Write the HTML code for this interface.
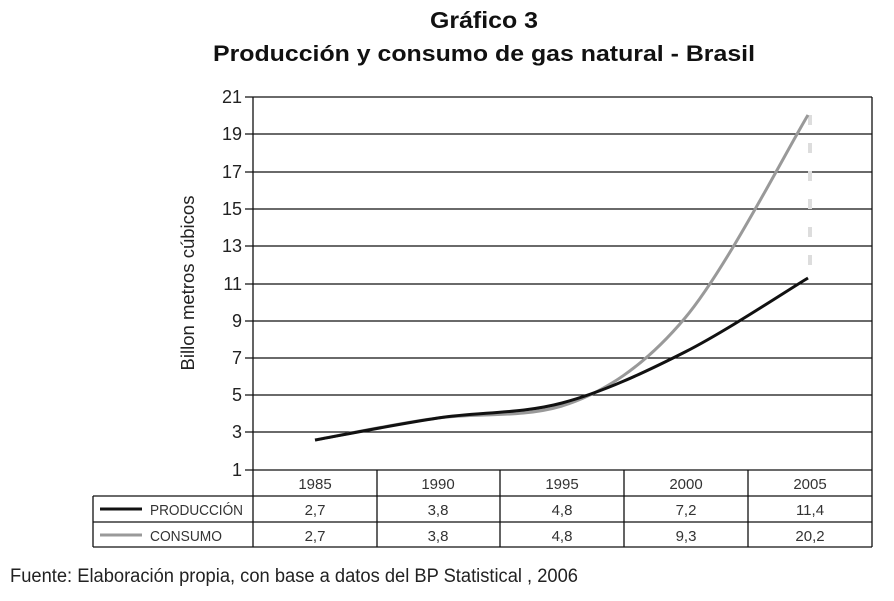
<!DOCTYPE html>
<html><head><meta charset="utf-8"><style>html,body{margin:0;padding:0;background:#fff}svg{display:block}</style></head>
<body>
<svg width="894" height="601" viewBox="0 0 894 601" xmlns="http://www.w3.org/2000/svg" font-family="Liberation Sans, sans-serif">
<text x="484" y="28" font-size="23" font-weight="bold" text-anchor="middle" fill="#111" textLength="108" lengthAdjust="spacingAndGlyphs">Gráfico 3</text>
<text x="484" y="61" font-size="22" font-weight="bold" text-anchor="middle" fill="#111" textLength="542" lengthAdjust="spacingAndGlyphs">Producción y consumo de gas natural - Brasil</text>
<g stroke="#111" stroke-width="1.3">
<line x1="245" y1="97" x2="872" y2="97"/><line x1="245" y1="134" x2="872" y2="134"/><line x1="245" y1="172" x2="872" y2="172"/><line x1="245" y1="209" x2="872" y2="209"/><line x1="245" y1="246" x2="872" y2="246"/><line x1="245" y1="284" x2="872" y2="284"/><line x1="245" y1="321" x2="872" y2="321"/><line x1="245" y1="358" x2="872" y2="358"/><line x1="245" y1="395" x2="872" y2="395"/><line x1="245" y1="432" x2="872" y2="432"/><line x1="245" y1="470" x2="872" y2="470"/>
<line x1="253" y1="97" x2="253" y2="547"/><line x1="872" y1="97" x2="872" y2="547"/>
<line x1="377" y1="470" x2="377" y2="547"/><line x1="500" y1="470" x2="500" y2="547"/><line x1="624" y1="470" x2="624" y2="547"/><line x1="748" y1="470" x2="748" y2="547"/>
<line x1="93" y1="496" x2="872" y2="496"/><line x1="93" y1="522" x2="872" y2="522"/><line x1="93" y1="547" x2="872" y2="547"/><line x1="93" y1="496" x2="93" y2="547"/>
</g>
<g font-size="18" fill="#222" text-anchor="end">
<text x="242" y="103">21</text><text x="242" y="140">19</text><text x="242" y="178">17</text><text x="242" y="215">15</text><text x="242" y="252">13</text><text x="242" y="290">11</text><text x="242" y="327">9</text><text x="242" y="364">7</text><text x="242" y="401">5</text><text x="242" y="438">3</text><text x="242" y="476">1</text>
</g>
<text transform="translate(194,283) rotate(-90)" font-size="18" fill="#222" text-anchor="middle" textLength="175" lengthAdjust="spacingAndGlyphs">Billon metros cúbicos</text>
<g font-size="15" fill="#333" text-anchor="middle">
<text x="315" y="489">1985</text><text x="438" y="489">1990</text><text x="562" y="489">1995</text><text x="686" y="489">2000</text><text x="810" y="489">2005</text>
<text x="315" y="515">2,7</text><text x="438" y="515">3,8</text><text x="562" y="515">4,8</text><text x="686" y="515">7,2</text><text x="810" y="515">11,4</text>
<text x="315" y="541">2,7</text><text x="438" y="541">3,8</text><text x="562" y="541">4,8</text><text x="686" y="541">9,3</text><text x="810" y="541">20,2</text>
<text x="150" y="515" text-anchor="start" textLength="93" lengthAdjust="spacingAndGlyphs">PRODUCCIÓN</text>
<text x="150" y="541" text-anchor="start" textLength="72" lengthAdjust="spacingAndGlyphs">CONSUMO</text>
</g>
<line x1="100" y1="509" x2="142" y2="509" stroke="#111" stroke-width="3"/>
<line x1="100" y1="535" x2="142" y2="535" stroke="#999" stroke-width="3"/>
<line x1="810" y1="115" x2="810" y2="278" stroke="#ddd" stroke-width="4" stroke-dasharray="10,18"/>
<path d="M315,440 C335.5,436.3 396.8,423.3 438,418 C479.2,412.7 520.8,418 562,406 C603.2,393 644,366.8 685,318 C726,269.2 787.5,148.8 808,115" fill="none" stroke="#999" stroke-width="3"/>
<path d="M315,440 C335.5,436.3 396.8,424.2 438,418 C479.2,411.8 520.8,414 562,403 C603.2,392 644,372.8 685,352 C726,331.2 787.5,290.3 808,278" fill="none" stroke="#111" stroke-width="3"/>
<text x="10" y="582" font-size="19" fill="#222" textLength="568" lengthAdjust="spacingAndGlyphs">Fuente: Elaboración propia, con base a datos del BP Statistical , 2006</text>
</svg>
</body></html>
